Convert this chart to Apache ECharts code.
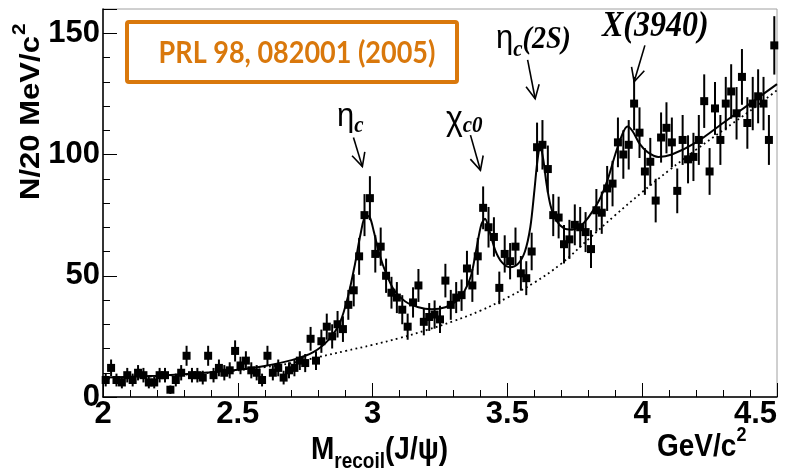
<!DOCTYPE html>
<html>
<head>
<meta charset="utf-8">
<script src="https://cdn.jsdelivr.net/npm/echarts@6/dist/echarts.min.js"></script>
<style>
  html, body { margin: 0; padding: 0; background: #fff; }
  #chart { width: 798px; height: 470px; }
</style>
</head>
<body>
<div id="chart"></div>
<script>
// Recoil mass spectrum against J/psi, 20 MeV/c^2 bins from 2.00 to 4.50 GeV/c^2
const binStart = 2.0;
const binWidth = 0.02;

// Entries per bin
const counts = [
  7, 12, 7, 6, 9, 7, 10, 9, 6, 6, 9, 9, 3, 7, 10, 17, 9, 9, 8, 17, 9,
  12, 10, 11, 19, 13, 15, 11, 10, 7, 17, 10, 12, 8, 11, 12, 15, 14, 24, 15, 23, 29,
  25, 30, 28, 38, 44, 58, 75, 82, 59, 62, 50, 43, 41, 36, 29, 39, 46, 31, 33, 34, 32,
  48, 38, 41, 42, 53, 46, 58, 78, 70, 66, 45, 59, 56, 62, 51, 49, 60, 103, 104, 94,
  75, 74, 63, 65, 71, 70, 68, 61, 77, 76, 86, 88, 105, 100, 104, 121, 109, 93, 97, 81, 107,
  111, 105, 85, 106, 98, 99, 106, 122, 93, 119, 106, 121, 126, 117, 132, 113, 121, 124, 121, 106, 145
];

// Fit result: signal peaks plus background (solid)
const fitTotal = [
  [2.00, 8.0], [2.10, 8.3], [2.20, 8.8], [2.30, 9.4], [2.40, 10.2], [2.50, 11.2],
  [2.60, 12.8], [2.70, 15.2], [2.78, 18.5], [2.84, 24], [2.88, 31], [2.91, 42],
  [2.935, 55], [2.955, 67], [2.975, 75], [2.99, 74], [3.005, 68], [3.025, 59],
  [3.05, 51], [3.08, 44], [3.12, 39.5], [3.17, 37], [3.22, 36.2], [3.27, 37],
  [3.31, 39.5], [3.34, 43.5], [3.365, 50], [3.385, 61], [3.403, 71], [3.417, 73.5],
  [3.432, 69], [3.455, 60.5], [3.48, 55.5], [3.51, 53.5], [3.54, 55], [3.565, 60],
  [3.585, 70], [3.60, 85], [3.612, 98], [3.622, 103], [3.633, 98], [3.645, 88],
  [3.66, 79], [3.68, 73], [3.71, 69.5], [3.74, 69], [3.77, 70.5], [3.80, 74],
  [3.84, 81], [3.87, 89], [3.90, 100], [3.925, 108], [3.945, 111.5], [3.965, 109.5],
  [3.99, 104.5], [4.02, 101], [4.06, 99], [4.11, 100], [4.20, 105], [4.30, 113],
  [4.40, 121], [4.50, 129]
];

// Background component of the fit (dotted)
const fitBackground = [
  [2.0, 7.5], [2.2, 8.6], [2.4, 10], [2.6, 12.3], [2.7, 14], [2.8, 16.5], [2.9, 19],
  [3.0, 21.5], [3.1, 24.3], [3.2, 27.6], [3.3, 31.3], [3.4, 35.6], [3.5, 41], [3.6, 47.2],
  [3.7, 55], [3.8, 65], [3.9, 75], [4.0, 84.5], [4.1, 93.5], [4.2, 102], [4.3, 110],
  [4.4, 118], [4.5, 126.5]
];

// Resonance labels: arrow tail and tip in (mass, entries)
const arrows = [
  { from: [2.929, 107], to: [2.962, 95] },
  { from: [3.363, 108], to: [3.400, 93.5] },
  { from: [3.575, 139], to: [3.603, 123] },
  { from: [4.010, 145], to: [3.970, 130] }
];

const xRange = [2, 4.5];
const yRange = [0, 160];

// Histogram points with Poisson (sqrt N) error bars
const points = counts.map((n, i) => [
  +(binStart + binWidth * (i + 0.5)).toFixed(3), n, Math.sqrt(n)
]);

const SANS = '"Liberation Sans", Arial, sans-serif';
const NARROW = '"Liberation Sans Narrow", "Liberation Sans", Arial, sans-serif';
const SERIF = '"Liberation Serif", "Times New Roman", serif';
const ORANGE = '#d9780c';

const chart = echarts.init(document.getElementById('chart'), null, { renderer: 'canvas' });

const axisLabelStyle = {
  fontFamily: NARROW, fontWeight: 'bold', fontSize: 31, color: '#000'
};

chart.setOption({
  animation: false,
  backgroundColor: '#fff',
  grid: {
    left: 103, right: 21, top: 9, bottom: 73,
    show: true, borderColor: '#a0a0a0', borderWidth: 1, backgroundColor: 'transparent'
  },
  xAxis: {
    type: 'value', min: xRange[0], max: xRange[1], interval: 0.5,
    axisLine: { show: true, onZero: false, lineStyle: { color: '#000', width: 1.5 } },
    axisTick: { show: true, inside: true, length: 14, lineStyle: { color: '#000', width: 1 } },
    minorTick: { show: true, splitNumber: 5, length: 7, lineStyle: { color: '#000', width: 1 } },
    splitLine: { show: false },
    axisLabel: Object.assign({ margin: 2, alignMaxLabel: 'right' }, axisLabelStyle)
  },
  yAxis: {
    type: 'value', min: yRange[0], max: yRange[1], interval: 50,
    axisLine: { show: true, onZero: false, lineStyle: { color: '#000', width: 1.5 } },
    axisTick: { show: true, inside: true, length: 14, lineStyle: { color: '#000', width: 1 } },
    minorTick: { show: true, splitNumber: 5, length: 7, lineStyle: { color: '#000', width: 1 } },
    splitLine: { show: false },
    axisLabel: Object.assign({ margin: 3, showMaxLabel: false }, axisLabelStyle)
  },
  series: [
    {
      name: 'background', type: 'line', data: fitBackground,
      smooth: 0.4, symbol: 'none', z: 2,
      lineStyle: { color: '#000', width: 1.8, type: [1.8, 3.4] }
    },
    {
      name: 'fit', type: 'line', data: fitTotal,
      smooth: 0.3, symbol: 'none', z: 3,
      lineStyle: { color: '#000', width: 2 }
    },
    {
      name: 'errors', type: 'custom', data: points, z: 4,
      renderItem: function (params, api) {
        const x = api.value(0), y = api.value(1), e = api.value(2);
        const top = api.coord([x, y + e]);
        const bot = api.coord([x, Math.max(0, y - e)]);
        return {
          type: 'line',
          shape: { x1: top[0], y1: top[1], x2: bot[0], y2: bot[1] },
          style: { stroke: '#000', lineWidth: 2 }
        };
      }
    },
    {
      name: 'data', type: 'scatter', data: points, z: 5,
      symbol: 'rect', symbolSize: 8,
      itemStyle: { color: '#000', opacity: 1 }
    }
  ]
});

// ---- text helpers -------------------------------------------------------
const measureCtx = document.createElement('canvas').getContext('2d');
function fontString(p) {
  return (p.style || 'normal') + ' ' + (p.weight || 'normal') + ' ' + p.size + 'px ' + p.family;
}
function measure(p) {
  measureCtx.font = fontString(p);
  return measureCtx.measureText(p.t).width;
}
// Lay out a run of text fragments left to right on a common baseline;
// each fragment may be raised or lowered by dy (pixels).
function textRun(x, baseline, parts, opts) {
  opts = opts || {};
  const sx = opts.scaleX || 1, sy = opts.scaleY || 1;
  const color = opts.color || '#000';
  const out = [];
  let cx = x;
  parts.forEach(p => {
    const w = measure(p) * sx;
    const y = baseline + (p.dy || 0);
    out.push({
      type: 'text', x: cx, y: y, scaleX: sx, scaleY: sy, z: 10,
      style: {
        text: p.t, font: fontString(p), fill: color,
        align: 'left', verticalAlign: 'bottom'
      }
    });
    cx += w + (p.gap || 0);
  });
  return out;
}

function buildGraphics() {
  const g = [];

  // Publication reference box
  g.push({
    type: 'rect', z: 10,
    shape: { x: 127, y: 22, width: 330, height: 60, r: 2 },
    style: { fill: '#fff', stroke: ORANGE, lineWidth: 4 }
  });
  g.push({
    type: 'text', x: 297, y: 53, z: 11, scaleY: 1.12,
    style: {
      text: 'PRL 98, 082001 (2005)', font: 'bold 27px Lato, "Open Sans", sans-serif',
      fill: ORANGE, align: 'center', verticalAlign: 'middle'
    }
  });

  // Resonance labels
  const S = 1.1;
  g.push(...textRun(337, 134, [
    { t: 'η', family: SANS, size: 31 },
    { t: 'c', family: SERIF, size: 21, style: 'italic', weight: 'bold', dy: 4 }
  ], { scaleY: S }));
  g.push(...textRun(446, 138, [
    { t: 'χ', family: SANS, size: 32 },
    { t: 'c0', family: SERIF, size: 21, style: 'italic', weight: 'bold', dy: 0 }
  ], { scaleY: S }));
  g.push(...textRun(496, 56, [
    { t: 'η', family: SANS, size: 31 },
    { t: 'c', family: SERIF, size: 21, style: 'italic', weight: 'bold', dy: 6 },
    { t: '(2S)', family: SERIF, size: 28, style: 'italic', weight: 'bold', dy: -1 }
  ], { scaleY: S }));
  g.push(...textRun(602, 45, [
    { t: 'X(3940)', family: SERIF, size: 32, style: 'italic', weight: 'bold' }
  ], { scaleY: S }));

  // Arrows pointing at each resonance
  arrows.forEach(a => {
    const p0 = chart.convertToPixel({ xAxisIndex: 0, yAxisIndex: 0 }, a.from);
    const p1 = chart.convertToPixel({ xAxisIndex: 0, yAxisIndex: 0 }, a.to);
    const ang = Math.atan2(p0[1] - p1[1], p0[0] - p1[0]);
    const L = 15, h = 0.46;
    const l = [p1[0] + L * Math.cos(ang + h), p1[1] + L * Math.sin(ang + h)];
    const r = [p1[0] + L * Math.cos(ang - h), p1[1] + L * Math.sin(ang - h)];
    g.push({ type: 'polyline', z: 10, shape: { points: [p0, p1] },
      style: { stroke: '#000', lineWidth: 1.6, fill: null } });
    g.push({ type: 'polyline', z: 10, shape: { points: [l, p1, r] },
      style: { stroke: '#000', lineWidth: 1.6, fill: null } });
  });

  // Y axis title, reading upwards
  const yTitle = { t: 'N/20 MeV/c', family: SANS, size: 27, weight: 'bold' };
  const ySx = 1.15;
  const yW = measure(yTitle) * ySx;
  g.push({
    type: 'text', x: 32, y: 200, rotation: Math.PI / 2, scaleX: ySx, z: 10,
    style: { text: yTitle.t, font: fontString(yTitle), fill: '#000', align: 'left', verticalAlign: 'middle' }
  });
  g.push({
    type: 'text', x: 20, y: 200 - yW - 1, rotation: Math.PI / 2, scaleX: ySx, z: 10,
    style: { text: '2', font: 'bold 18px ' + SANS, fill: '#000', align: 'left', verticalAlign: 'middle' }
  });

  // X axis title and unit
  g.push(...textRun(311, 466, [
    { t: 'M', family: SANS, size: 28, weight: 'bold' },
    { t: 'recoil', family: SANS, size: 19, weight: 'bold', dy: 7 },
    { t: '(J/ψ)', family: SANS, size: 28, weight: 'bold' }
  ], { scaleY: 1.12 }));
  g.push(...textRun(657, 463, [
    { t: 'GeV/c', family: SANS, size: 28, weight: 'bold' },
    { t: '2', family: SANS, size: 18, weight: 'bold', dy: -17, gap: 0 }
  ], { scaleY: 1.12 }));

  return g;
}

chart.setOption({ graphic: { elements: buildGraphics() } });
</script>
</body>
</html>
